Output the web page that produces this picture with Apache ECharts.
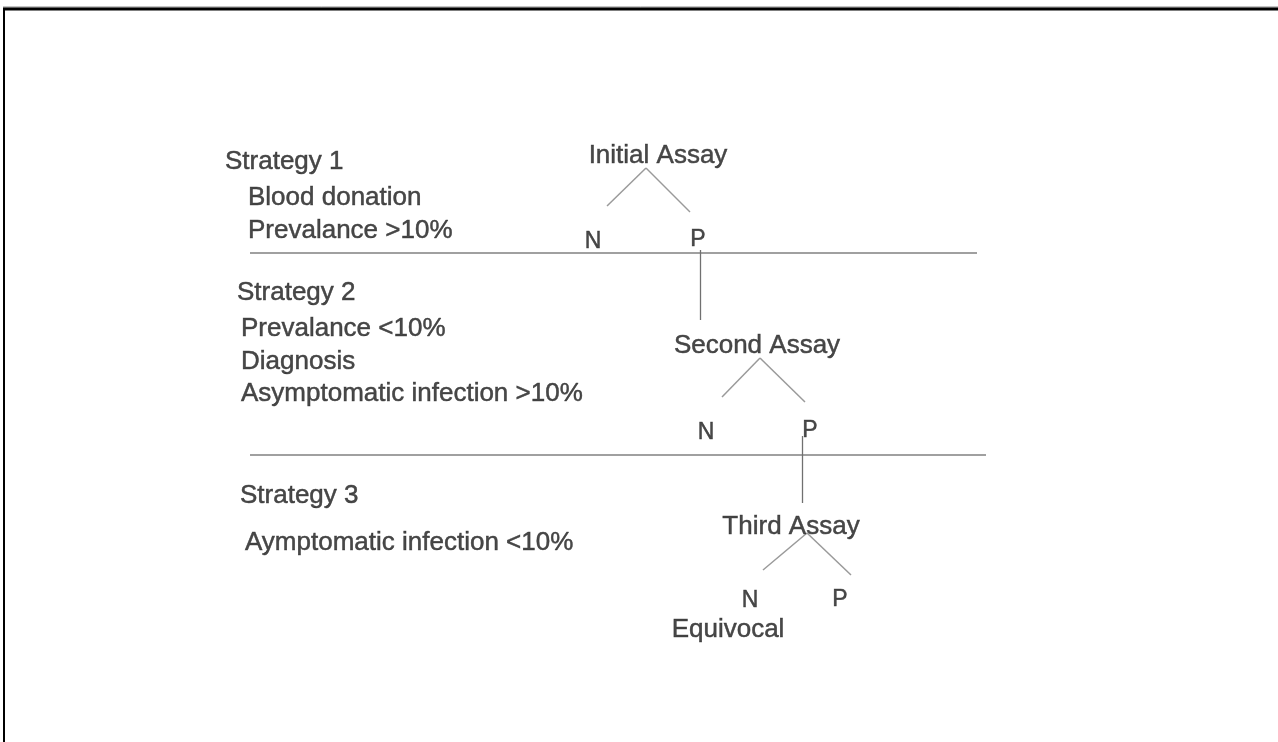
<!DOCTYPE html>
<html><head><meta charset="utf-8">
<script src="https://cdn.jsdelivr.net/npm/echarts@6/dist/echarts.min.js"></script>
<style>html,body{margin:0;padding:0;background:#fff;overflow:hidden}#c{width:1278px;height:742px}</style>
</head><body><div id="c"></div>
<script>
// ---- texts ----
const strategyTitles = ['Strategy 1', 'Strategy 2', 'Strategy 3'];
const strategyCriteria = [
  ['Blood donation', 'Prevalance >10%'],
  ['Prevalance <10%', 'Diagnosis', 'Asymptomatic infection >10%'],
  ['Aymptomatic infection <10%']
];
const assayNames = ['Initial Assay', 'Second Assay', 'Third Assay'];
const outcomeNames = ['N', 'P'];
const equivocalNote = 'Equivocal';

// ---- diagram coordinates (x, y) ----
const titleAnchors = [[225, 162], [237, 293], [240, 496]];
const criteriaAnchors = [[[248, 198], [248, 231]], [[241, 329], [241, 362], [241, 394]], [[245, 543]]];
const assayAnchors = [[658, 156], [757, 346], [791, 527]];
const branchApex = [[646, 168], [760, 358], [807, 533]];
const branchLeftEnd = [[607, 206], [722, 397], [763, 570]];
const branchRightEnd = [[690, 212], [805, 402], [851, 575]];
const outcomeN = [[593, 242], [706, 433], [750, 601]];
const outcomeP = [[698, 240], [810, 431], [840, 600]];
const equivocalAnchor = [728, 630];
const separatorY = [253, 455];
const separatorX = [[250, 977], [250, 986]];
const linkTop = [[700, 250], [802, 436]];
const linkBottom = [[700, 320], [802, 503]];

const FONT = '"Liberation Sans", Arial, sans-serif';
const TEXT_COLOR = '#1a1a1a';

const leftText = [];
strategyTitles.forEach((t, i) => leftText.push([titleAnchors[i][0], titleAnchors[i][1], t]));
strategyCriteria.forEach((list, i) => list.forEach((t, j) =>
  leftText.push([criteriaAnchors[i][j][0], criteriaAnchors[i][j][1], t])));

const centerText = [];
assayNames.forEach((t, i) => centerText.push([assayAnchors[i][0], assayAnchors[i][1], t]));
centerText.push([equivocalAnchor[0], equivocalAnchor[1], equivocalNote]);

const outcomeText = [];
outcomeN.forEach(p => outcomeText.push([p[0], p[1], outcomeNames[0]]));
outcomeP.forEach(p => outcomeText.push([p[0], p[1], outcomeNames[1]]));

const branchSegs = [];
branchApex.forEach((a, i) => {
  branchSegs.push({ coords: [a, branchLeftEnd[i]] });
  branchSegs.push({ coords: [a, branchRightEnd[i]] });
});
const linkSegs = linkTop.map((p, i) => ({ coords: [p, linkBottom[i]] }));
const sepSegs = separatorY.map((y, i) => ({ coords: [[separatorX[i][0], y], [separatorX[i][1], y]] }));

function textSeries(data, align, size) {
  return {
    type: 'scatter', data: data, symbolSize: 0, silent: true,
    label: {
      show: true, position: 'inside', align: align, verticalAlign: 'middle',
      formatter: p => p.value[2], fontFamily: FONT, fontSize: size, color: TEXT_COLOR,
      textBorderColor: '#333333', textBorderWidth: 0.5
    }
  };
}

const chart = echarts.init(document.getElementById('c'), null, { renderer: 'canvas' });
chart.setOption({
  backgroundColor: '#ffffff',
  animation: false,
  grid: { left: 0, right: 0, top: 0, bottom: 0 },
  xAxis: { type: 'value', min: 0, max: 1278, show: false },
  yAxis: { type: 'value', min: 0, max: 742, inverse: true, show: false },
  graphic: [
    { type: 'line', shape: { x1: 3, y1: 7, x2: 1278, y2: 7 }, style: { stroke: '#888', lineWidth: 1 } },
    { type: 'line', shape: { x1: 3, y1: 9, x2: 1278, y2: 9 }, style: { stroke: '#000', lineWidth: 3 } },
    { type: 'line', shape: { x1: 4, y1: 8, x2: 4, y2: 742 }, style: { stroke: '#000', lineWidth: 2 } }
  ],
  series: [
    { type: 'lines', coordinateSystem: 'cartesian2d', silent: true, data: sepSegs,
      lineStyle: { color: '#a0a0a0', width: 2, opacity: 1 } },
    { type: 'lines', coordinateSystem: 'cartesian2d', silent: true, data: branchSegs,
      lineStyle: { color: '#9a9a9a', width: 1.5, opacity: 1 } },
    { type: 'lines', coordinateSystem: 'cartesian2d', silent: true, data: linkSegs,
      lineStyle: { color: '#707070', width: 1.3, opacity: 1 } },
    textSeries(leftText, 'left', 26),
    textSeries(centerText, 'center', 26),
    textSeries(outcomeText, 'center', 23)
  ]
});
</script></body></html>
